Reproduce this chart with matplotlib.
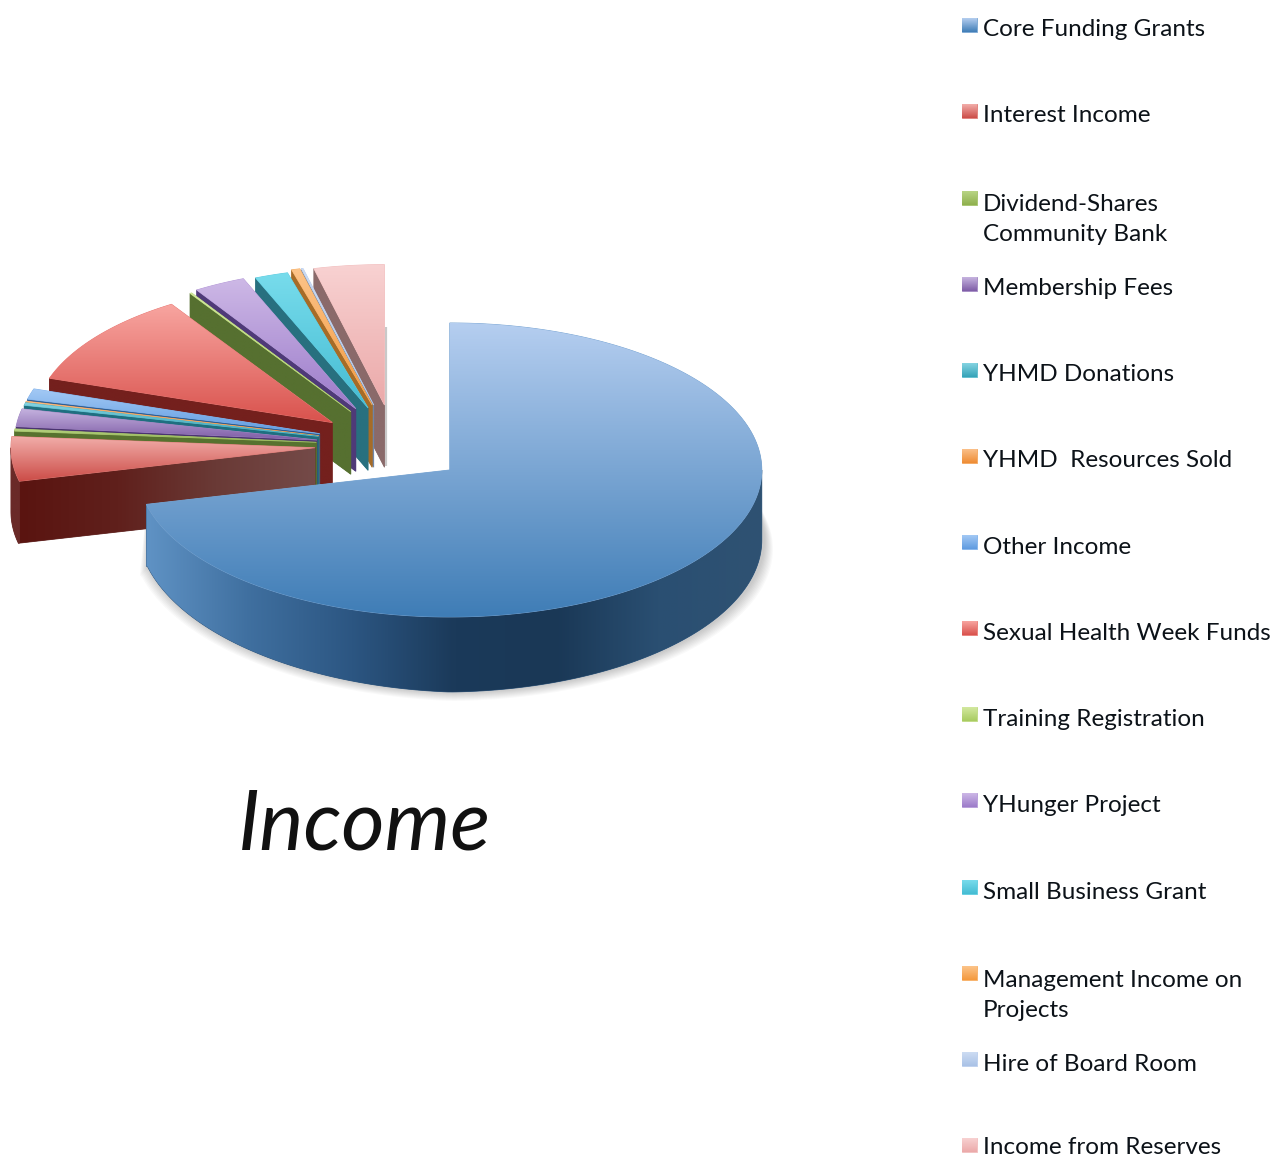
import numpy as np
import matplotlib
matplotlib.use("Agg")
import matplotlib.pyplot as plt
from matplotlib.colors import to_rgb
from matplotlib.patches import Polygon

# ---- data ----
categories = ["Core Funding Grants", "Interest Income", "Dividend-Shares\nCommunity Bank",
              "Membership Fees", "YHMD Donations", "YHMD  Resources Sold", "Other Income",
              "Sexual Health Week Funds", "Training Registration", "YHunger Project",
              "Small Business Grant", "Management Income on\nProjects", "Hire of Board Room",
              "Income from Reserves"]
shares = [71.1, 5.0, 0.25, 2.0, 0.3, 0.1, 1.2, 10.8, 0.1, 2.8, 1.8, 0.45, 0.1, 3.8]
title = "Income"

# ---- styles ----
top_light = ["#b5cef0", "#f2aeaa", "#b9d585", "#c6b4e0", "#85d4e2", "#fbc08a", "#a3c9f5",
             "#f8a5a0", "#d3e8a0", "#cdb8e6", "#78dcec", "#fcc48a", "#cddcf3", "#f8d2d2"]
top_dark = ["#3f7db6", "#cc4d48", "#8fb04e", "#7e5ca6", "#35a3b8", "#ee8c34", "#5f9be0",
            "#d9524d", "#a8cc60", "#9c7bca", "#45bcd3", "#f4993d", "#a9c2e6", "#eba9a9"]
wall_col = ["#2b5078", "#6a2a28", "#57722f", "#4a3370", "#1f6f80", "#a96a25", "#2f5f95",
            "#74201d", "#567030", "#4f3a78", "#28707f", "#a66c28", "#6f86a8", "#8a6a6a"]
core_wall_stops = ["#5f92c4", "#3f6f9f", "#2c5682", "#1b3a5a", "#1a3856", "#2a4f72", "#2f5272"]
interest_wall_stops = ["#5a1410", "#60201c", "#6a3a36", "#744a48"]

CX, CY, RX, RY = 450, 470, 312, 147
SCALE_T = [128, 129, 265, 287, 309, 360]
SCALE_V = [1.0, 1.0, 0.975, 0.965, 0.955, 0.955]
EXPL_T = [128, 265, 279, 287, 309, 334, 341, 345, 353.5]
EXPL_X = [0, -135, -133, -130, -117, -93, -82, -78, -65]
EXPL_Y = [0, -22, -30, -37, -48, -62, -62, -65, -65]
LEG_BASE = [36, 122, 241, 295, 381, 467, 554, 640, 726, 812, 899, 1017, 1071, 1154]
LEG_SWATCH = [25, 111, 198, 284, 370, 456, 542, 628, 714, 800, 887, 973, 1059, 1145]

fig = plt.figure(figsize=(12.73, 11.57), dpi=100, facecolor="white")
ax = fig.add_axes([0, 0, 1, 1])
ax.axis("off")


def depth(t):
    return np.interp(t, [0, 90, 180, 256, 257, 360], [70, 70, 75, 60, 64, 62])


def pt(cx, cy, t, s=1.0):
    r = np.radians(t)
    return cx + s * RX * np.sin(r), cy - s * RY * np.cos(r)


z = [10]


def fill(poly, stops, vertical=True):
    poly = np.asarray(poly)
    rgb = np.array([to_rgb(c) for c in stops])
    mid = rgb.mean(axis=0)
    z[0] += 1
    patch = Polygon(poly, closed=True, fc=mid, ec=mid, lw=0.6, zorder=z[0])
    ax.add_patch(patch)
    n = 128
    u = np.linspace(0, 1, n)
    g = np.stack([np.interp(u, np.linspace(0, 1, len(rgb)), rgb[:, i]) for i in range(3)], axis=-1)
    arr = g[:, None, :] if vertical else g[None, :, :]
    x0, x1, y0, y1 = poly[:, 0].min(), poly[:, 0].max(), poly[:, 1].min(), poly[:, 1].max()
    if x1 - x0 < 1 or y1 - y0 < 1:
        return
    z[0] += 1
    im = ax.imshow(arr, extent=(x0, x1, y1, y0), origin="upper", aspect="auto",
                   interpolation="bilinear", zorder=z[0])
    im.set_clip_path(Polygon(poly, closed=True, transform=ax.transData))


vals = np.array(shares, float)
angles = np.concatenate([[0], np.cumsum(vals / vals.sum() * 360)])

# soft shadow under the main slice
core_end = angles[1]
ts = np.linspace(70, core_end, 120)
for grow in np.arange(1, 10):
    lower = np.array([[pt(CX, CY, t)[0] + 2 + grow * np.sin(np.radians(t)),
                       pt(CX, CY, t)[1] + depth(t) + grow] for t in ts])
    upper = np.array([pt(CX, CY, t) for t in ts[::-1]])
    ax.add_patch(Polygon(np.vstack([lower, upper]), closed=True, fc="black", ec="none",
                         alpha=0.022, zorder=5))

# painter's order: furthest exploded slice first, main slice last
for i in list(range(len(vals) - 1, -1, -1)):
    a0, a1 = angles[i], angles[i + 1]
    mid = (a0 + a1) / 2
    s = np.interp(mid, SCALE_T, SCALE_V)
    cx = CX + np.interp(mid, EXPL_T, EXPL_X)
    cy = CY + np.interp(mid, EXPL_T, EXPL_Y)
    ts = np.linspace(a0, a1, max(8, int((a1 - a0) * 2)))
    arc = np.array([pt(cx, cy, t, s) for t in ts])
    apex = np.array([cx, cy])

    if i == len(vals) - 1:
        # faint edge of the last slice's closing face
        ax.plot([cx + 1.5, cx + 1.5], [cy - 78, cy + depth(a1) - 1], color="#c9c9c9", lw=1.6,
                zorder=z[0], solid_capstyle="butt")
    if i != 0:
        # radial wall along the counter-clockwise edge
        d = depth(a0)
        p = np.array(pt(cx, cy, a0, s))
        quad = [apex, p, p + [0, d], apex + [0, d]]
        fill(quad, interest_wall_stops if i == 1 else [wall_col[i], wall_col[i]], vertical=False)
    # outer rim, only where it faces the viewer
    lo, hi = max(a0, 90), min(a1, 270)
    if hi > lo:
        tr = np.linspace(lo, hi, 200 if i == 0 else 20)
        rim = np.array([pt(cx, cy, t, s) for t in tr])
        low = np.array([[x, y + depth(t)] for (x, y), t in zip(rim, tr)])
        fill(np.vstack([rim, low[::-1]]), core_wall_stops if i == 0 else [wall_col[i], wall_col[i]],
             vertical=False)
    # top face
    fill(np.vstack([apex[None, :], arc]), [top_light[i], top_dark[i]], vertical=True)

# legend
for i, name in enumerate(categories):
    y = LEG_SWATCH[i]
    fill([(962, y - 7), (977, y - 7), (977, y + 7), (962, y + 7)],
         [top_light[i], top_dark[i]], vertical=True)
    ax.text(983, LEG_BASE[i], name, fontsize=17.5, family="Lato", color="#0c1218",
            ha="left", va="baseline", linespacing=1.55, zorder=500)

# hand-written style title
ax.text(364, 849, title, fontsize=60, family="Lato", style="italic", color="#111111",
        ha="center", va="baseline", zorder=500)

ax.set_xlim(0, 1273)
ax.set_ylim(1157, 0)
fig.savefig("out.png", dpi=100, facecolor="white")
